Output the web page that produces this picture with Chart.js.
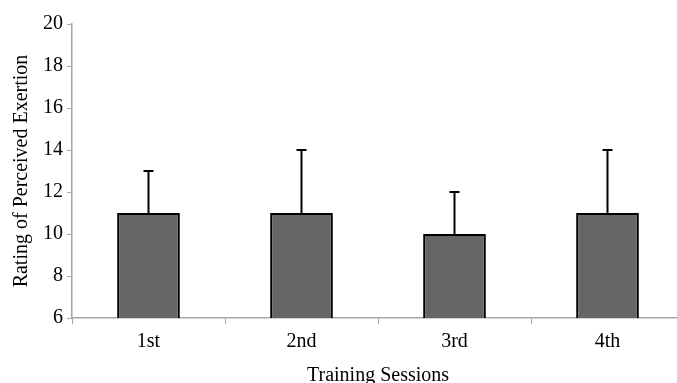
<!DOCTYPE html>
<html>
<head>
<meta charset="utf-8">
<script src="https://cdn.jsdelivr.net/npm/chart.js@4.4.0/dist/chart.umd.min.js"></script>
<style>
  html, body { margin: 0; padding: 0; background: #fff; overflow: hidden; width: 677px; height: 383px; }
  #wrap { width: 690px; height: 392px; }
</style>
</head>
<body>
<div id="wrap"><canvas id="rpeChart"></canvas></div>
<script>
// Datos del gráfico
const sessions = ['1st', '2nd', '3rd', '4th'];
const rpeMean = [11, 11, 10, 11];
const rpeSD = [2, 3, 2, 3];
const yTicks = [6, 8, 10, 12, 14, 16, 18, 20];

const serif = '"Liberation Serif", "Times New Roman", serif';
const axisGray = '#a6a6a6';

// Barras de error (solo hacia arriba)
const errorBars = {
  id: 'errorBars',
  afterDatasetsDraw(chart) {
    const ctx = chart.ctx;
    const meta = chart.getDatasetMeta(0);
    const y = chart.scales.y;
    ctx.save();
    ctx.strokeStyle = '#000';
    ctx.lineWidth = 2;
    meta.data.forEach((bar, i) => {
      const top = y.getPixelForValue(rpeMean[i] + rpeSD[i]);
      const base = y.getPixelForValue(rpeMean[i]);
      ctx.beginPath();
      ctx.moveTo(bar.x, base);
      ctx.lineTo(bar.x, top);
      ctx.moveTo(bar.x - 5, top);
      ctx.lineTo(bar.x + 5, top);
      ctx.stroke();
    });
    ctx.restore();
  }
};

new Chart(document.getElementById('rpeChart'), {
  type: 'bar',
  data: {
    labels: sessions,
    datasets: [{
      data: rpeMean,
      backgroundColor: '#666666',
      borderColor: '#000000',
      borderWidth: 2,
      barPercentage: 0.41,
      categoryPercentage: 1
    }]
  },
  plugins: [errorBars],
  options: {
    responsive: true,
    maintainAspectRatio: false,
    animation: false,
    layout: { padding: { top: 24, right: 6, left: 0, bottom: 0 } },
    plugins: {
      legend: { display: false },
      tooltip: { enabled: false }
    },
    scales: {
      x: {
        offset: true,
        afterFit: (s) => { s.height = 74; },
        grid: {
          offset: true,
          drawOnChartArea: false,
          tickLength: 6,
          color: axisGray,
          tickColor: axisGray
        },
        border: { color: axisGray, width: 1.5 },
        ticks: {
          color: '#000',
          padding: 6,
          font: { family: serif, size: 20 }
        },
        title: {
          display: true,
          text: 'Training Sessions',
          color: '#000',
          padding: { top: 8 },
          font: { family: serif, size: 20 }
        }
      },
      y: {
        min: 6,
        max: 20,
        afterFit: (s) => { s.width = 72; },
        afterBuildTicks: (s) => { s.ticks = yTicks.map(v => ({ value: v })); },
        grid: {
          drawOnChartArea: false,
          tickLength: 5,
          color: axisGray,
          tickColor: axisGray
        },
        border: { color: axisGray, width: 1.5 },
        ticks: {
          color: '#000',
          padding: 4,
          font: { family: serif, size: 20 }
        },
        title: {
          display: true,
          text: 'Rating of Perceived Exertion',
          color: '#000',
          padding: { top: 10 },
          font: { family: serif, size: 20 }
        }
      }
    }
  }
});
</script>
</body>
</html>
